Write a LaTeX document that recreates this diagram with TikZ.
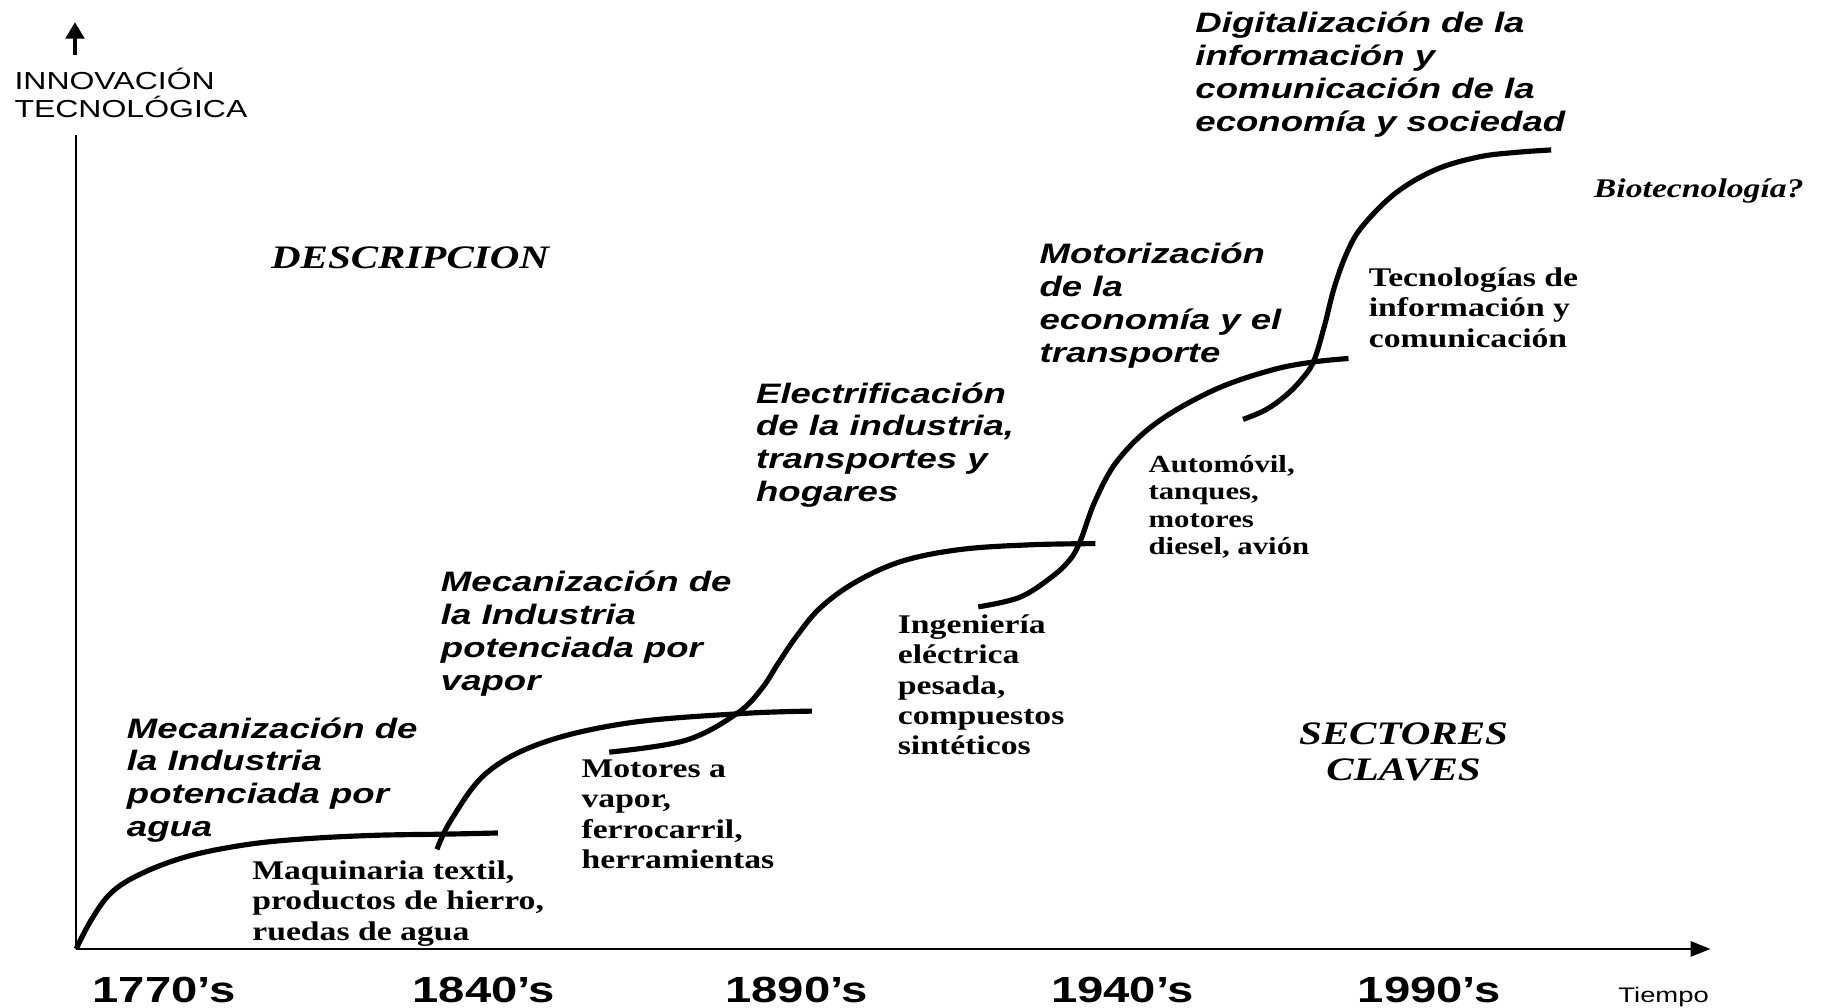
\documentclass[tikz,border=0pt]{standalone}
\usepackage{fontspec}
\newfontfamily\sansf{Liberation Sans}[FakeStretch=1.3]
\newfontfamily\yearf{Liberation Sans Bold}[FakeStretch=1.3]
\newfontfamily\serf{Liberation Serif}[FakeStretch=1.25]
\usetikzlibrary{arrows.meta}
\tikzset{
  curve/.style={line width=2.2pt},
  axisline/.style={line width=1pt},
  era/.style={anchor=north west, inner sep=0pt, align=left, font=\sansf\bfseries\itshape\fontsize{12}{14}\selectfont},
  sector/.style={anchor=north west, inner sep=0pt, align=left, font=\serf\bfseries\fontsize{11.5}{13}\selectfont},
  sectorsmall/.style={anchor=north west, inner sep=0pt, align=left, font=\serf\bfseries\fontsize{10.5}{11.75}\selectfont},
  year/.style={inner sep=0pt, font=\yearf\fontsize{15.5}{17}\selectfont},
  heading/.style={inner sep=0pt, align=center, font=\serf\bfseries\itshape\fontsize{14}{15.5}\selectfont},
}
\begin{document}
\begin{tikzpicture}[x=0.5pt,y=-0.5pt]
\useasboundingbox (0,0) rectangle (1568,860);
% axes
\coordinate (O) at (65,810);
\coordinate (ytop) at (65,115);
\coordinate (xend) at (1460,810);
\coordinate (arrbase) at (64,47);
\coordinate (arrtip) at (64,19);
\draw[axisline] (O) -- (ytop);
\draw[line width=1.3pt,-{Triangle[length=7pt,width=8pt]}] (arrbase) -- (arrtip);
\draw[axisline,-{Triangle[length=8.5pt,width=6.5pt]}] (O) -- (xend);
\node[anchor=north west, inner sep=0pt, align=left, font=\sansf\fontsize{10.5}{12}\selectfont] (ylab) at (12,58) {INNOVACIÓN\\TECNOLÓGICA};
% years
\node[year] (y1770) at (140,845) {1770’s};
\node[year] (y1840) at (413,845) {1840’s};
\node[year] (y1890) at (680,845) {1890’s};
\node[year] (y1940) at (958,845) {1940’s};
\node[year] (y1990) at (1220,845) {1990’s};
\node[inner sep=0pt, font=\sansf\fontsize{9}{11}\selectfont] (tiempo) at (1420,851) {Tiempo};
% curves
\draw[curve] plot[smooth, tension=0.6] coordinates {(65,810) (78,785) (95,762) (120,746) (160,731) (210,721) (260,716) (320,713) (380,712) (425,711)};
\draw[curve] plot[smooth, tension=0.6] coordinates {(373,725) (385,700) (415,660) (463,634) (537,617) (634,609) (693,607)};
\draw[curve] plot[smooth, tension=0.6] coordinates {(520,642) (585,632) (629,609) (650,588) (665,565) (680,543) (700,519) (730,497) (770,479) (820,469) (880,465) (935,464)};
\draw[curve] plot[smooth, tension=0.6] coordinates {(835,518) (870,510) (897,493) (913,478) (922,462) (935,427) (954,393) (987,361) (1036,333) (1085,316) (1121,309) (1151,306)};
\draw[curve] plot[smooth, tension=0.6] coordinates {(1061,358) (1080,350) (1097,338) (1110,325) (1121,309) (1130,280) (1139,245) (1150,215) (1163,193) (1191,165) (1225,145) (1262,134) (1295,130) (1324,128)};
% era labels
\node[era] (e1) at (108,612) {Mecanización de\\la Industria\\potenciada por\\agua};
\node[era] (e2) at (376,487) {Mecanización de\\la Industria\\potenciada por\\vapor};
\node[era] (e3) at (645,326) {Electrificación\\de la industria,\\transportes y\\hogares};
\node[era] (e4) at (887,207) {Motorización\\de la\\economía y el\\transporte};
\node[era] (e5) at (1020,10) {Digitalización de la\\información y\\comunicación de la\\economía y sociedad};
% sector labels
\node[sector] (s1) at (215,734) {Maquinaria textil,\\productos de hierro,\\ruedas de agua};
\node[sector] (s2) at (496,648) {Motores a\\vapor,\\ferrocarril,\\herramientas};
\node[sector] (s3) at (766,524) {Ingeniería\\eléctrica\\pesada,\\compuestos\\sintéticos};
\node[sectorsmall] (s4) at (980,388) {Automóvil,\\tanques,\\motores\\diesel, avión};
\node[sector] (s5) at (1168,228) {Tecnologías de\\información y\\comunicación};
% headings
\node[heading] (desc) at (350,220) {DESCRIPCION};
\node[heading] (sect) at (1198,642) {SECTORES\\CLAVES};
\node[inner sep=0pt, font=\serf\bfseries\itshape\fontsize{11.5}{14}\selectfont] (bio) at (1450,163) {Biotecnología?};
\end{tikzpicture}
\end{document}
